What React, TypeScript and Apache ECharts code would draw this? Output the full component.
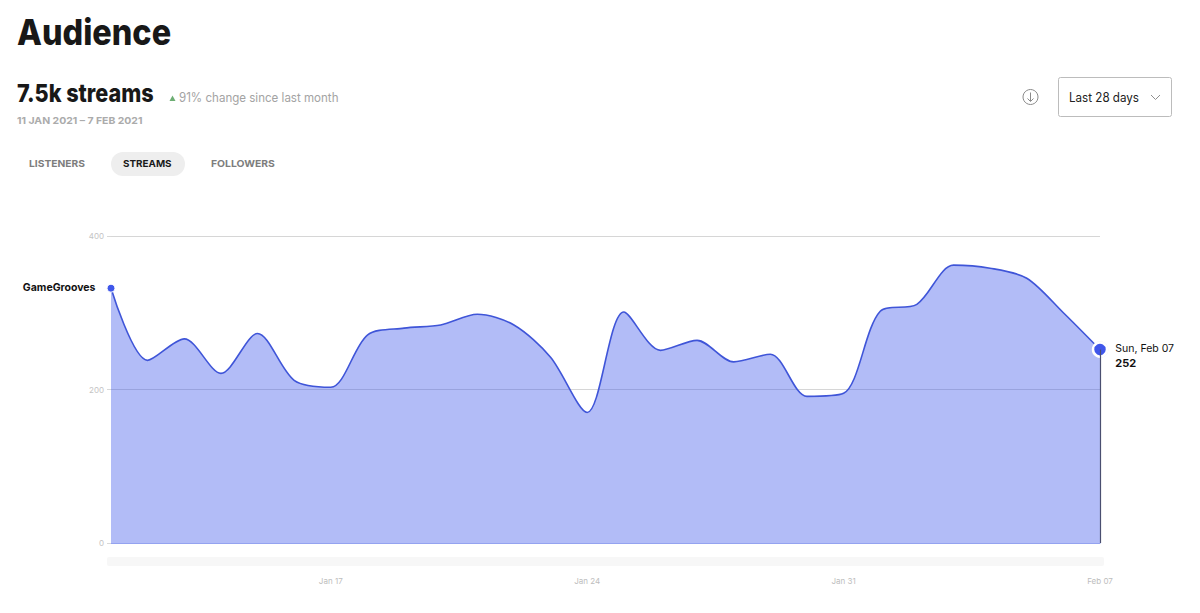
import React, { useEffect, useRef } from "react";
import * as echarts from "echarts";

const categories = ["Jan 11","Jan 12","Jan 13","Jan 14","Jan 15","Jan 16","Jan 17","Jan 18","Jan 19","Jan 20","Jan 21","Jan 22","Jan 23","Jan 24","Jan 25","Jan 26","Jan 27","Jan 28","Jan 29","Jan 30","Jan 31","Feb 01","Feb 02","Feb 03","Feb 04","Feb 05","Feb 06","Feb 07"];
const streams = [332,238,266,221,273,212,203,271,280,284,298,284,242,170,301,251,264,236,246,191,195,302,311,362,358,345,300,252];
const xTicks = ["Jan 17","Jan 24","Jan 31","Feb 07"];
const yTicks = [0,200,400];
const seriesName = "GameGrooves";
const lastDate = "Sun, Feb 07";

const FONT = "Inter";
const BLUE = "#3f57ea";

function txt(text: string, x: number, y: number, size: number, weight: any, fill: string, scaleX = 1) {
  return { type: "text", x, y, scaleX, originX: 0, style: { text, x: 0, y: 0, fontFamily: FONT, fontSize: size, fontWeight: weight, fill, verticalAlign: "middle" }, silent: true };
}

export default function App() {
  const ref = useRef<HTMLDivElement>(null);
  useEffect(() => {
    const chart = echarts.init(ref.current!, undefined, { renderer: "svg" });
    const last = streams.length - 1;
    chart.setOption({
      animation: false,
      backgroundColor: "#ffffff",
      grid: { left: 111, right: 100, top: 236, height: 307, containLabel: false },
      xAxis: {
        type: "category",
        data: categories,
        boundaryGap: false,
        axisLine: { show: true, lineStyle: { color: "#94a3f0", width: 1 } },
        axisTick: { show: false },
        splitLine: { show: false },
        axisLabel: {
          color: "#bdbdbd", fontSize: 8, fontFamily: FONT, margin: 34, showMaxLabel: true, hideOverlap: false,
          interval: (_: number, v: string) => xTicks.includes(v),
        },
      },
      yAxis: {
        type: "value", min: 0, max: 400, interval: 200,
        axisLine: { show: false },
        axisTick: { show: true, length: 4, lineStyle: { color: "#d8d8d8" } },
        splitLine: { lineStyle: { color: "#d6d6d6", width: 1 } },
        axisLabel: { color: "#c4c4c4", fontSize: 8, fontFamily: FONT, margin: 7, formatter: (v: number) => (yTicks.includes(v) ? String(v) : "") },
      },
      series: [{
        type: "line", name: seriesName,
        smooth: 0.3,
        symbol: "none",
        showAllSymbol: true,
        lineStyle: { color: "#3f55d8", width: 1.6 },
        areaStyle: { color: BLUE, opacity: 0.4 },
        data: streams.map((v, i) => {
          if (i === 0) return {
            value: v, symbol: "circle", symbolSize: 8, itemStyle: { color: BLUE, borderColor: "#fff", borderWidth: 1 },
            label: { show: true, position: "left", distance: 11, offset: [0, -1], formatter: seriesName, color: "#111", fontFamily: FONT, fontSize: 10.5, fontWeight: 700 },
          };
          if (i === last) return {
            value: v, symbol: "circle", symbolSize: 14, itemStyle: { color: BLUE, borderColor: "#fff", borderWidth: 2.5, shadowColor: "rgba(0,0,0,0.2)", shadowBlur: 1 },
            label: {
              show: true, position: "right", distance: 8, offset: [-1, 6], align: "left",
              formatter: `{a|${lastDate}}\n{b|${v}}`,
              rich: {
                a: { color: "#111", fontFamily: FONT, fontSize: 10.5, lineHeight: 14 },
                b: { color: "#111", fontFamily: FONT, fontSize: 11, fontWeight: 700, lineHeight: 14 },
              },
            },
          };
          return { value: v };
        }),
        markLine: {
          silent: true, symbol: "none", label: { show: false },
          lineStyle: { color: "#4a4f70", width: 1.2, type: "solid" },
          data: [[{ xAxis: categories[last], yAxis: streams[last] }, { xAxis: categories[last], yAxis: 0 }]],
        },
        z: 3,
      }],
      graphic: [
        txt("Audience", 17, 32, 36, 800, "#181818", 0.9),
        txt("7.5k streams", 17, 93, 25, 800, "#181818", 0.865),
        { type: "polygon", silent: true, shape: { points: [[169.5, 101], [175.5, 101], [172.5, 95.5]] }, style: { fill: "#6dae74" } },
        txt("91% change since last month", 179, 97.5, 12.5, 400, "#a3a3a3", 0.925),
        txt("11 JAN 2021 – 7 FEB 2021", 17, 120.5, 9.5, 700, "#ababab", 1.1),
        { type: "rect", silent: true, shape: { x: 111, y: 152, width: 74, height: 24, r: 12 }, style: { fill: "#eeeeee" } },
        txt("LISTENERS", 29, 163.5, 9.5, 700, "#7d7d7d", 1.08),
        txt("STREAMS", 123, 163.5, 9.5, 700, "#1a1a1a", 1.04),
        txt("FOLLOWERS", 211, 163.5, 9.5, 700, "#7d7d7d", 1.09),
        { type: "circle", silent: true, shape: { cx: 1030.5, cy: 97, r: 7.5 }, style: { fill: "none", stroke: "#8a8a8a", lineWidth: 1 } },
        { type: "line", silent: true, shape: { x1: 1030.5, y1: 92.5, x2: 1030.5, y2: 101 }, style: { stroke: "#8a8a8a", lineWidth: 1 } },
        { type: "polyline", silent: true, shape: { points: [[1027.5, 98.5], [1030.5, 101.5], [1033.5, 98.5]] }, style: { fill: "none", stroke: "#8a8a8a", lineWidth: 1 } },
        { type: "rect", silent: true, shape: { x: 1058.5, y: 77.5, width: 113, height: 39, r: 2 }, style: { fill: "#fff", stroke: "#bcbcbc", lineWidth: 1 } },
        txt("Last 28 days", 1069, 97.5, 12.5, 400, "#222222", 0.93),
        { type: "polyline", silent: true, shape: { points: [[1151, 95], [1155.5, 99.5], [1160, 95]] }, style: { fill: "none", stroke: "#8f8f8f", lineWidth: 1 } },
        { type: "rect", silent: true, shape: { x: 107, y: 557, width: 997, height: 9, r: 2 }, style: { fill: "#f7f7f7" } },
      ],
    });
    return () => chart.dispose();
  }, []);
  return <div ref={ref} style={{ position: "absolute", left: 0, top: 0, width: 1200, height: 613 }} />;
}
